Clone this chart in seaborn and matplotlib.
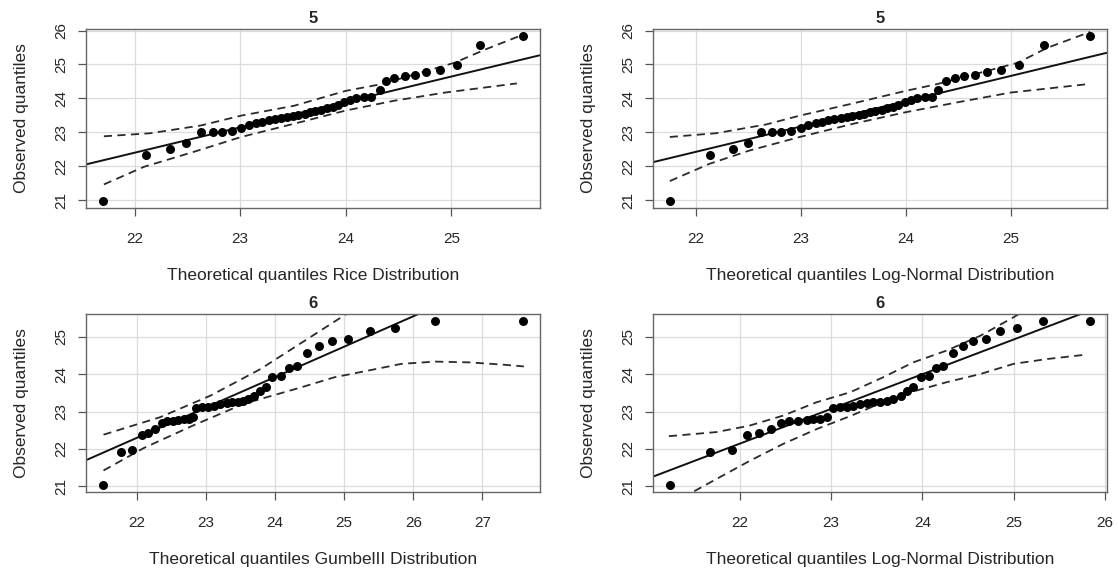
import numpy as np
import pandas as pd
import matplotlib
matplotlib.use('Agg')
import matplotlib.pyplot as plt
from matplotlib.ticker import MultipleLocator
import seaborn as sns

# sample "5" - observed quantiles (same data in both top panels)
obs5 = [20.96, 22.32, 22.51, 22.67, 23.01, 23.02, 23.02, 23.03, 23.13, 23.20,
        23.26, 23.31, 23.35, 23.40, 23.43, 23.46, 23.49, 23.52, 23.55, 23.59,
        23.63, 23.67, 23.71, 23.75, 23.80, 23.88, 23.96, 24.02, 24.05, 24.05,
        24.24, 24.51, 24.60, 24.65, 24.69, 24.79, 24.84, 24.97, 25.58, 25.85]
rice5 = [21.70, 22.11, 22.34, 22.49, 22.63, 22.74, 22.83, 22.92, 23.01, 23.08,
         23.15, 23.21, 23.27, 23.33, 23.39, 23.44, 23.50, 23.55, 23.61, 23.66,
         23.71, 23.77, 23.82, 23.88, 23.93, 23.98, 24.04, 24.10, 24.17, 24.24,
         24.32, 24.38, 24.46, 24.56, 24.66, 24.76, 24.89, 25.05, 25.27, 25.68]
lnorm5 = [21.75, 22.13, 22.35, 22.50, 22.62, 22.72, 22.81, 22.91, 23.00, 23.07,
          23.14, 23.20, 23.26, 23.32, 23.38, 23.44, 23.49, 23.55, 23.60, 23.66,
          23.71, 23.77, 23.82, 23.88, 23.93, 23.99, 24.05, 24.11, 24.18, 24.25,
          24.31, 24.38, 24.47, 24.56, 24.66, 24.78, 24.91, 25.08, 25.32, 25.76]

# sample "6" - observed quantiles (same data in both bottom panels)
obs6 = [21.02, 21.91, 21.96, 22.38, 22.43, 22.54, 22.70, 22.75, 22.76, 22.77,
        22.79, 22.80, 22.85, 23.09, 23.12, 23.13, 23.16, 23.21, 23.23, 23.25,
        23.25, 23.29, 23.34, 23.43, 23.54, 23.67, 23.94, 23.96, 24.17, 24.23,
        24.57, 24.75, 24.88, 24.95, 25.15, 25.24, 25.42, 25.44]
gumb6 = [21.51, 21.78, 21.93, 22.07, 22.17, 22.27, 22.36, 22.44, 22.52, 22.60,
         22.68, 22.75, 22.81, 22.86, 22.94, 23.03, 23.12, 23.21, 23.30, 23.38,
         23.46, 23.54, 23.61, 23.69, 23.78, 23.87, 23.96, 24.08, 24.20, 24.32,
         24.47, 24.64, 24.83, 25.06, 25.37, 25.74, 26.32, 27.59]
lnorm6 = [21.23, 21.67, 21.91, 22.08, 22.21, 22.34, 22.45, 22.54, 22.64, 22.73,
          22.80, 22.88, 22.95, 23.02, 23.10, 23.17, 23.24, 23.32, 23.39, 23.46,
          23.54, 23.61, 23.68, 23.76, 23.83, 23.90, 23.98, 24.07, 24.15, 24.23,
          24.34, 24.44, 24.56, 24.70, 24.85, 25.04, 25.32, 25.84]

# confidence envelopes (x, upper) and (x, lower)
p1_up_x = [21.71, 22.15, 22.63, 23.01, 23.51, 24.00, 24.34, 25.03, 25.32, 25.68]
p1_up_y = [22.88, 22.97, 23.20, 23.49, 23.78, 24.22, 24.42, 25.05, 25.44, 25.88]
p1_lo_x = [21.71, 22.09, 22.56, 23.01, 23.51, 24.00, 24.46, 24.94, 25.62]
p1_lo_y = [21.46, 21.98, 22.42, 22.86, 23.25, 23.64, 23.93, 24.17, 24.44]

p2_up_x = [21.75, 22.19, 22.67, 22.99, 23.47, 24.00, 24.30, 25.07, 25.35, 25.76]
p2_up_y = [22.86, 22.97, 23.23, 23.49, 23.83, 24.22, 24.42, 25.05, 25.49, 25.96]
p2_lo_x = [21.75, 22.13, 22.51, 22.99, 23.50, 24.00, 24.49, 25.00, 25.74]
p2_lo_y = [21.56, 22.07, 22.46, 22.86, 23.25, 23.59, 23.88, 24.17, 24.42]

p3_up_x = [21.52, 22.34, 23.07, 23.79, 24.43, 25.01, 25.20]
p3_up_y = [22.38, 22.85, 23.43, 24.14, 24.90, 25.59, 25.80]
p3_lo_x = [21.52, 22.10, 22.82, 23.55, 24.38, 24.86, 25.35, 25.83, 26.32, 26.80, 27.29, 27.60]
p3_lo_y = [21.42, 22.02, 22.63, 23.21, 23.65, 23.92, 24.10, 24.28, 24.34, 24.32, 24.26, 24.21]

p4_up_x = [21.22, 21.74, 22.10, 22.47, 22.84, 23.21, 23.57, 23.90, 24.27, 24.64, 25.00, 25.15]
p4_up_y = [22.34, 22.45, 22.62, 22.89, 23.25, 23.52, 23.92, 24.32, 24.64, 25.04, 25.53, 25.75]
p4_lo_x = [21.23, 21.48, 21.74, 22.10, 22.47, 22.84, 23.21, 23.57, 23.87, 24.27, 24.64, 25.00, 25.37, 25.77]
p4_lo_y = [20.55, 20.84, 21.19, 21.67, 22.13, 22.53, 22.88, 23.25, 23.52, 23.79, 24.01, 24.28, 24.41, 24.52]

# reference lines (intercept, slope)
lines = [(5.908, 0.7494), (6.024, 0.7454), (4.355, 0.8154), (1.687, 0.9298)]

titles = ['5', '5', '6', '6']
xlabels = ['Theoretical quantiles Rice Distribution',
           'Theoretical quantiles Log-Normal Distribution',
           'Theoretical quantiles GumbelII Distribution',
           'Theoretical quantiles Log-Normal Distribution']

sns.set_style('white')
plt.rcParams['font.family'] = ['Liberation Sans', 'DejaVu Sans']

fig = plt.figure(figsize=(11.18, 5.77), dpi=100)
W, H = 1118, 577
boxes = [(86, 29, 540, 208), (653, 29, 1107, 208), (86, 314, 540, 492), (653, 314, 1107, 492)]

panels = [
    (rice5, obs5, p1_up_x, p1_up_y, p1_lo_x, p1_lo_y),
    (lnorm5, obs5, p2_up_x, p2_up_y, p2_lo_x, p2_lo_y),
    (gumb6, obs6, p3_up_x, p3_up_y, p3_lo_x, p3_lo_y),
    (lnorm6, obs6, p4_up_x, p4_up_y, p4_lo_x, p4_lo_y),
]

for i, (tx, oy, ux, uy, lx, ly) in enumerate(panels):
    l, t, r, b = boxes[i]
    ax = fig.add_axes([l / W, 1 - b / H, (r - l) / W, (b - t) / H])
    df = pd.DataFrame({'theo': tx, 'obs': oy})

    # R style: 4% padding around data range
    xr = max(tx) - min(tx)
    yr = max(oy) - min(oy)
    ax.set_xlim(min(tx) - 0.04 * xr, max(tx) + 0.04 * xr)
    ax.set_ylim(min(oy) - 0.04 * yr, max(oy) + 0.04 * yr)

    ax.xaxis.set_major_locator(MultipleLocator(1))
    ax.yaxis.set_major_locator(MultipleLocator(1))
    ax.grid(True, color='#dcdcdc', linewidth=0.9)
    ax.set_axisbelow(True)

    sns.lineplot(x=ux, y=uy, ax=ax, color='#2a2a2a', linewidth=1.3, sort=False,
                 estimator=None, linestyle=(0, (4.5, 3)))
    sns.lineplot(x=lx, y=ly, ax=ax, color='#2a2a2a', linewidth=1.3, sort=False,
                 estimator=None, linestyle=(0, (4.5, 3)))
    a, m = lines[i]
    ax.axline((0, a), slope=m, color='#111111', linewidth=1.4)
    sns.scatterplot(data=df, x='theo', y='obs', ax=ax, color='black', s=42,
                    edgecolor='black', linewidth=0, zorder=5)

    ax.set_title(titles[i], fontsize=12, fontweight='bold', pad=4)
    ax.set_xlabel(xlabels[i], fontsize=12.5, labelpad=16)
    ax.set_ylabel('Observed quantiles', fontsize=12.5, labelpad=18)
    ax.tick_params(axis='both', direction='out', length=6, width=0.9, color='#555555',
                   labelsize=11, bottom=True, left=True)
    ax.tick_params(axis='x', pad=11)
    ax.tick_params(axis='y', pad=7)
    for lab in ax.get_yticklabels():
        lab.set_rotation(90)
        lab.set_va('center')
    for s in ax.spines.values():
        s.set_color('#666666')
        s.set_linewidth(1.0)

fig.savefig('out.png', dpi=100, facecolor='white')
